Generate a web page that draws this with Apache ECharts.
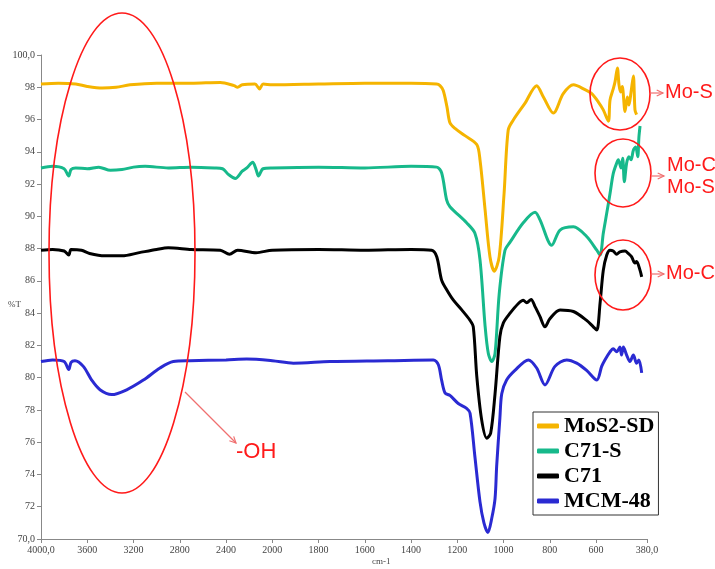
<!DOCTYPE html>
<html><head><meta charset="utf-8">
<script src="https://cdn.jsdelivr.net/npm/echarts@6/dist/echarts.min.js"></script>
<style>html,body{margin:0;padding:0;background:#fff}#c{width:715px;height:569px}</style>
</head><body><div id="c"></div>
<script>
const seriesNames = ['MoS2-SD', 'C71-S', 'C71', 'MCM-48'];
const seriesColors = ['#f5b400', '#17b98b', '#000000', '#2a2ad2'];
const xTickLabels = [4000, 3600, 3200, 2800, 2400, 2000, 1800, 1600, 1400, 1200, 1000, 800, 600, 380];
const yTickMin = 70, yTickMax = 100, yTickStep = 2;

// [wavenumber cm-1, %T]
const mos2sd = [[4000,98.2],[3850,98.25],[3700,98.2],[3600,98.05],[3470,97.95],[3350,98.0],[3230,98.15],[3000,98.25],[2700,98.25],[2450,98.3],[2330,98.1],[2300,98.0],[2260,98.15],[2150,98.2],[2110,97.9],[2080,98.2],[2000,98.15],[1800,98.2],[1600,98.25],[1400,98.25],[1290,98.2],[1275,98.1],[1261,97.8],[1245,96.8],[1232,95.8],[1210,95.45],[1167,95.0],[1116,94.45],[1102,93.5],[1080,90.4],[1059,87.5],[1040,86.6],[1019,87.5],[998,91.4],[980,95.35],[958,95.97],[908,97.0],[857,98.1],[828,97.4],[785,96.4],[742,97.6],[698,98.15],[648,97.85],[619,97.6],[591,97.1],[569,96.6],[547,95.9],[540,97.2],[526,97.9],[518,98.35],[508,99.2],[501,98.15],[494,97.7],[487,98.05],[475,96.5],[465,97.4],[458,96.9],[449,97.7],[439,98.7],[432,96.6],[425,96.3]];
const c71s = [[4000,93.0],[3900,93.1],[3800,92.95],[3760,92.5],[3740,92.9],[3700,93.0],[3600,92.95],[3500,93.05],[3400,92.85],[3300,92.9],[3200,93.05],[3100,93.1],[2900,93.0],[2700,93.05],[2500,93.0],[2430,92.95],[2380,92.6],[2320,92.35],[2260,92.8],[2220,93.0],[2170,93.35],[2140,92.9],[2120,92.5],[2080,92.95],[2000,93.0],[1800,93.05],[1600,93.0],[1400,93.1],[1289,93.05],[1268,92.7],[1246,91.0],[1232,90.6],[1160,89.6],[1124,88.95],[1102,87.3],[1080,83.2],[1066,81.5],[1051,81.0],[1037,81.5],[1019,85.2],[994,87.9],[972,88.4],[915,89.6],[864,90.25],[843,89.8],[792,88.2],[756,89.15],[698,89.35],[641,88.75],[597,87.9],[583,87.6],[569,88.95],[554,90.2],[540,91.4],[526,92.65],[511,93.3],[504,93.5],[492,93.0],[485,93.6],[478,92.15],[468,93.3],[458,93.7],[449,93.5],[439,94.1],[429,94.3],[420,93.7],[415,94.9],[410,95.6]];
const c71 = [[4000,87.9],[3900,87.95],[3800,87.85],[3760,87.6],[3740,87.95],[3650,87.9],[3580,87.7],[3450,87.55],[3300,87.55],[3150,87.75],[3000,87.95],[2900,88.05],[2700,87.95],[2450,87.9],[2370,87.65],[2300,87.9],[2140,87.75],[2000,87.9],[1800,87.95],[1600,87.9],[1400,87.95],[1311,87.9],[1289,87.5],[1268,86.05],[1246,85.45],[1217,84.8],[1181,84.2],[1145,83.55],[1131,83.15],[1116,80.1],[1095,77.4],[1073,76.25],[1056,76.55],[1037,79.0],[1016,82.55],[1001,83.4],[972,84.0],[936,84.6],[915,84.8],[900,84.65],[881,84.85],[864,84.4],[843,83.8],[821,83.15],[800,83.65],[756,84.2],[698,84.1],[641,83.55],[612,83.15],[597,82.95],[583,84.6],[569,86.65],[554,87.6],[540,87.9],[526,87.85],[511,87.65],[497,87.8],[475,87.85],[461,87.7],[447,87.5],[432,87.1],[425,87.2],[410,86.65],[403,86.25]];
const mcm48 = [[4000,81.0],[3900,81.1],[3800,81.0],[3760,80.5],[3740,80.95],[3706,81.05],[3634,80.7],[3562,79.85],[3490,79.25],[3389,78.95],[3259,79.25],[3115,79.85],[2971,80.6],[2856,81.0],[2712,81.05],[2400,81.1],[2222,81.15],[2000,81.05],[1909,80.9],[1751,81.0],[1500,81.05],[1304,81.1],[1282,80.8],[1268,79.85],[1253,79.05],[1232,78.9],[1196,78.4],[1160,78.1],[1145,77.8],[1124,75.1],[1102,72.3],[1085,71.0],[1068,70.4],[1051,71.3],[1037,72.5],[1030,74.5],[1016,77.5],[1008,79.0],[987,79.85],[951,80.45],[893,81.1],[857,80.6],[821,79.55],[778,80.7],[727,81.1],[684,80.9],[641,80.45],[597,79.85],[576,80.7],[562,81.1],[540,81.6],[526,81.8],[511,81.6],[497,81.9],[490,81.4],[482,81.9],[468,81.4],[454,81.0],[439,81.4],[425,80.9],[415,81.1],[403,80.3]];
const allData = [mos2sd, c71s, c71, mcm48];

// FTIR axis: scale changes at 2000 cm-1 (400 per division above, 200 per division below)
function toAxis(wn) { return wn >= 2000 ? (4000 - wn) / 400 : 5 + (2000 - wn) / 200; }
function fromAxis(t) { return t <= 5 ? 4000 - 400 * t : 2000 - 200 * (t - 5); }
const xTicks = xTickLabels.map(toAxis);

const chart = echarts.init(document.getElementById('c'), null, { renderer: 'canvas' });
const red = '#ff1a1a', pink = '#f07070';
const txt = (x, y, s, size, extra) => Object.assign({ type: 'text', left: x, top: y, z: 100,
  style: { text: s, fill: red, font: size + 'px "Liberation Sans", Arial, sans-serif' } }, extra || {});
const arrow = (x1, y1, x2, y2) => {
  const a = Math.atan2(y2 - y1, x2 - x1), L = 7, w = 0.45;
  return [
    { type: 'line', z: 100, shape: { x1, y1, x2, y2 }, style: { stroke: pink, lineWidth: 1.2 } },
    { type: 'polyline', z: 100, shape: { points: [[x2 - L * Math.cos(a - w), y2 - L * Math.sin(a - w)], [x2, y2], [x2 - L * Math.cos(a + w), y2 - L * Math.sin(a + w)]] }, style: { stroke: pink, lineWidth: 1.2, fill: null } }
  ];
};
const ell = (cx, cy, rx, ry) => ({ type: 'ellipse', z: 100, shape: { cx, cy, rx, ry }, style: { fill: null, stroke: red, lineWidth: 1.6 } });

chart.setOption({
  animation: false,
  backgroundColor: '#fff',
  grid: { left: 41, right: 68, top: 55, bottom: 30 },
  legend: {
    orient: 'vertical', left: 533, top: 412,
    data: seriesNames, icon: 'roundRect', itemWidth: 22, itemHeight: 5, itemGap: 3,
    padding: [3, 4, 3, 4], borderColor: '#333', borderWidth: 1, backgroundColor: '#fff',
    textStyle: { fontFamily: '"Liberation Serif", "Times New Roman", serif', fontWeight: 'bold', fontSize: 22, lineHeight: 22, color: '#000' }
  },
  xAxis: {
    type: 'value', min: 0, max: toAxis(380),
    axisLine: { lineStyle: { color: '#888', width: 1 } },
    axisTick: { show: true, inside: false, length: 4, customValues: xTicks, lineStyle: { color: '#888' } },
    splitLine: { show: false },
    axisLabel: {
      customValues: xTicks, margin: 6, color: '#444', fontSize: 10,
      fontFamily: '"Liberation Serif", serif',
      formatter: v => { const wn = Math.round(fromAxis(v)); return (wn === 4000 || wn === 380) ? wn + ',0' : String(wn); }
    }
  },
  yAxis: {
    type: 'value', min: yTickMin, max: yTickMax, interval: yTickStep,
    axisLine: { show: true, lineStyle: { color: '#888', width: 1 } },
    axisTick: { show: true, inside: false, length: 4, lineStyle: { color: '#888' } },
    splitLine: { show: false },
    axisLabel: {
      margin: 6, color: '#444', fontSize: 10, fontFamily: '"Liberation Serif", serif',
      formatter: v => (v === yTickMax || v === yTickMin) ? v + ',0' : String(v)
    }
  },
  series: seriesNames.map((n, i) => ({
    name: n, type: 'line', showSymbol: false, symbol: 'none', smooth: 0.3,
    color: seriesColors[i],
    lineStyle: { width: 3, color: seriesColors[i] },
    data: allData[i].map(p => [toAxis(p[0]), p[1]]),
    z: 10 - i
  })),
  graphic: [
    { type: 'text', left: 8, top: 300, style: { text: '%T', fill: '#444', font: '9px "Liberation Serif", serif' } },
    { type: 'text', left: 372, top: 557, style: { text: 'cm-1', fill: '#444', font: '9px "Liberation Serif", serif' } },
    ell(122, 253, 73, 240),
    ...arrow(185, 392, 236, 443),
    txt(236, 441, '-OH', 22),
    ell(620, 94, 30, 36),
    ...arrow(650, 93, 663, 93),
    txt(665, 82, 'Mo-S', 20),
    ell(623, 173, 28, 34),
    ...arrow(651, 176, 664, 176),
    txt(667, 155, 'Mo-C', 20),
    txt(667, 177, 'Mo-S', 20),
    ell(623, 275, 28, 35),
    ...arrow(651, 274, 664, 274),
    txt(666, 263, 'Mo-C', 20)
  ]
});
</script>
</body></html>
